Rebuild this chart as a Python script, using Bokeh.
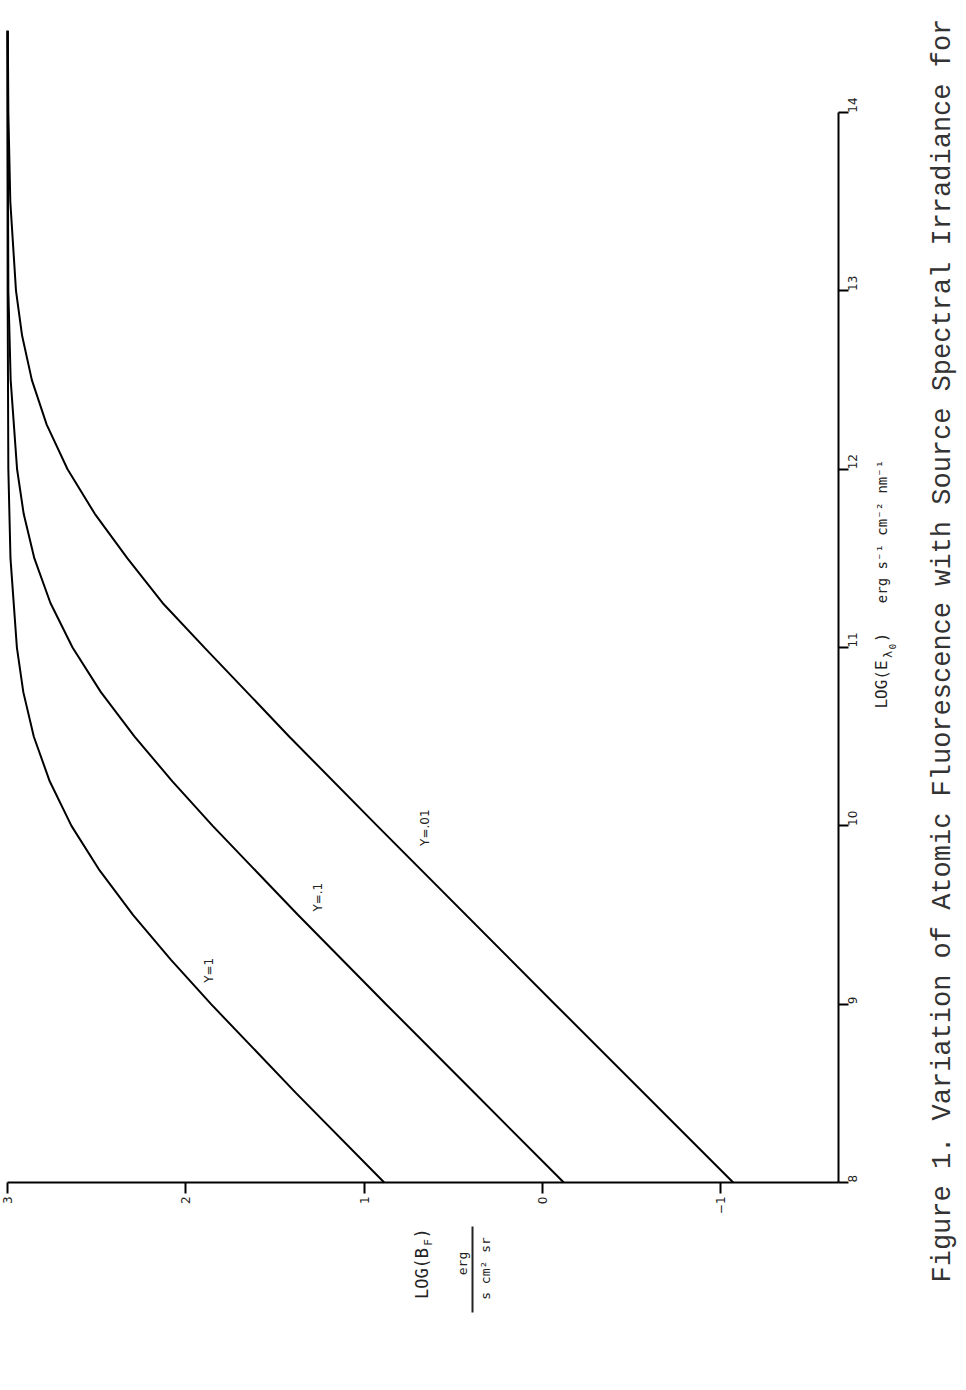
import math
from bokeh.plotting import figure
from bokeh.models import Range1d, FixedTicker, Label, Arrow
from bokeh.embed import file_html
from bokeh.resources import INLINE

# ---- data ----
# x-axis of the original chart: LOG(E_lambda0); y-axis: LOG(B_F)
loge_y1 = [8.0, 8.5, 9.0, 9.25, 9.5, 9.75, 10.0, 10.25, 10.5, 10.75, 11.0, 11.5, 12.0, 13.0, 14.46]
logb_y1 = [0.887, 1.38, 1.858, 2.084, 2.295, 2.483, 2.641, 2.763, 2.852, 2.911, 2.947, 2.983, 2.995, 2.999, 3.0]

loge_y01 = [8.0, 8.5, 9.0, 9.5, 10.0, 10.25, 10.5, 10.75, 11.0, 11.25, 11.5, 11.75, 12.0, 12.5, 13.0, 14.46]
logb_y01 = [-0.12, 0.379, 0.877, 1.37, 1.849, 2.075, 2.287, 2.476, 2.635, 2.759, 2.849, 2.909, 2.946, 2.982, 2.995, 3.0]

loge_y001 = [8.0, 9.0, 10.0, 10.5, 11.0, 11.25, 11.5, 11.75, 12.0, 12.25, 12.5, 12.75, 13.0, 13.5, 14.0, 14.46]
logb_y001 = [-1.07, -0.07, 0.926, 1.419, 1.895, 2.13, 2.327, 2.51, 2.663, 2.78, 2.863, 2.918, 2.952, 2.984, 2.995, 2.998]

curve_names = ["Y=1", "Y=.1", "Y=.01"]
label_logb = [1.87, 1.26, 0.656]
label_loge = [9.19, 9.60, 9.99]

logb_ticks = [3, 2, 1, 0, -1]
loge_ticks = [8, 9, 10, 11, 12, 13, 14]
logb_axis_end = -1.66   # where the LOG(E) axis crosses
loge_axis_start = 8     # where the LOG(B) axis crosses

caption = "Figure 1.  Variation of Atomic Fluorescence with Source Spectral Irradiance for"

W, H = 962, 1384
ANG = math.pi / 2

p = figure(width=W, height=H, x_range=Range1d(3.039, -2.356), y_range=Range1d(6.867, 14.629),
           output_backend="svg", toolbar_location=None, title=None,
           x_axis_location="below", y_axis_location="right",
           min_border_left=0, min_border_top=0, min_border_bottom=0, min_border_right=0)
p.xgrid.visible = False
p.ygrid.visible = False
p.outline_line_color = None
p.background_fill_color = "white"
p.border_fill_color = "white"

xa = p.xaxis[0]
xa.fixed_location = loge_axis_start
xa.bounds = (logb_axis_end, 3.0)
xa.ticker = FixedTicker(ticks=logb_ticks)
xa.major_tick_out = 11
xa.major_tick_in = 0
xa.minor_tick_out = 0
xa.minor_tick_in = 0
xa.axis_line_width = 2
xa.major_tick_line_width = 2
xa.major_label_orientation = ANG
xa.major_label_text_font = "DejaVu Sans"
xa.major_label_text_font_size = "12px"
xa.major_label_standoff = 3
xa.major_label_text_color = "#222222"

ya = p.yaxis[0]
ya.fixed_location = logb_axis_end
ya.bounds = (8, 14)
ya.ticker = FixedTicker(ticks=loge_ticks)
ya.major_tick_out = 10
ya.major_tick_in = 0
ya.minor_tick_out = 0
ya.minor_tick_in = 0
ya.axis_line_width = 2
ya.major_tick_line_width = 2
ya.major_label_orientation = ANG
ya.major_label_text_font = "DejaVu Sans"
ya.major_label_text_font_size = "12px"
ya.major_label_standoff = 4
ya.major_label_text_color = "#222222"

for xs, ys in [(logb_y1, loge_y1), (logb_y01, loge_y01), (logb_y001, loge_y001)]:
    p.line(x=xs, y=ys, line_color="black", line_width=2)

for name, bx, ey in zip(curve_names, label_logb, label_loge):
    p.add_layout(Label(x=bx, y=ey, text=name, angle=ANG, text_align="center",
                       text_baseline="middle", text_font="DejaVu Sans",
                       text_font_size="12px", text_color="#222222"))


def page_label(px, py, text, size, font="DejaVu Sans Mono", color="#222222"):
    p.add_layout(Label(x=px, y=py, x_units="canvas", y_units="canvas",
                       text=text, angle=ANG, text_align="center", text_baseline="middle",
                       text_font=font, text_font_size=size, text_color=color))


# LOG(B_F) axis title with units fraction
page_label(421, 1273, "LOG(B", "17px")
page_label(428, 1242, "F", "11px")
page_label(421, 1233, ")", "17px")
page_label(462, 1263, "erg", "13px")
page_label(485, 1268, "s cm\u00b2 sr", "13px")
p.add_layout(Arrow(end=None, x_start=472, y_start=1226, x_end=472, y_end=1312,
                   start_units="canvas", end_units="canvas", line_color="#222222", line_width=2))

# LOG(E_lambda0) axis title with units
page_label(881, 684, "LOG(E", "16px")
page_label(887, 654, "\u03bb", "12px")
page_label(892, 646, "0", "9px")
page_label(881, 637, ")", "16px")
page_label(881, 531, "erg s\u207b\u00b9 cm\u207b\u00b2 nm\u207b\u00b9", "14px")

# caption
page_label(942, 642, caption, "27px", font="Liberation Mono", color="#333333")

open("out.html", "w").write(file_html(p, INLINE))
